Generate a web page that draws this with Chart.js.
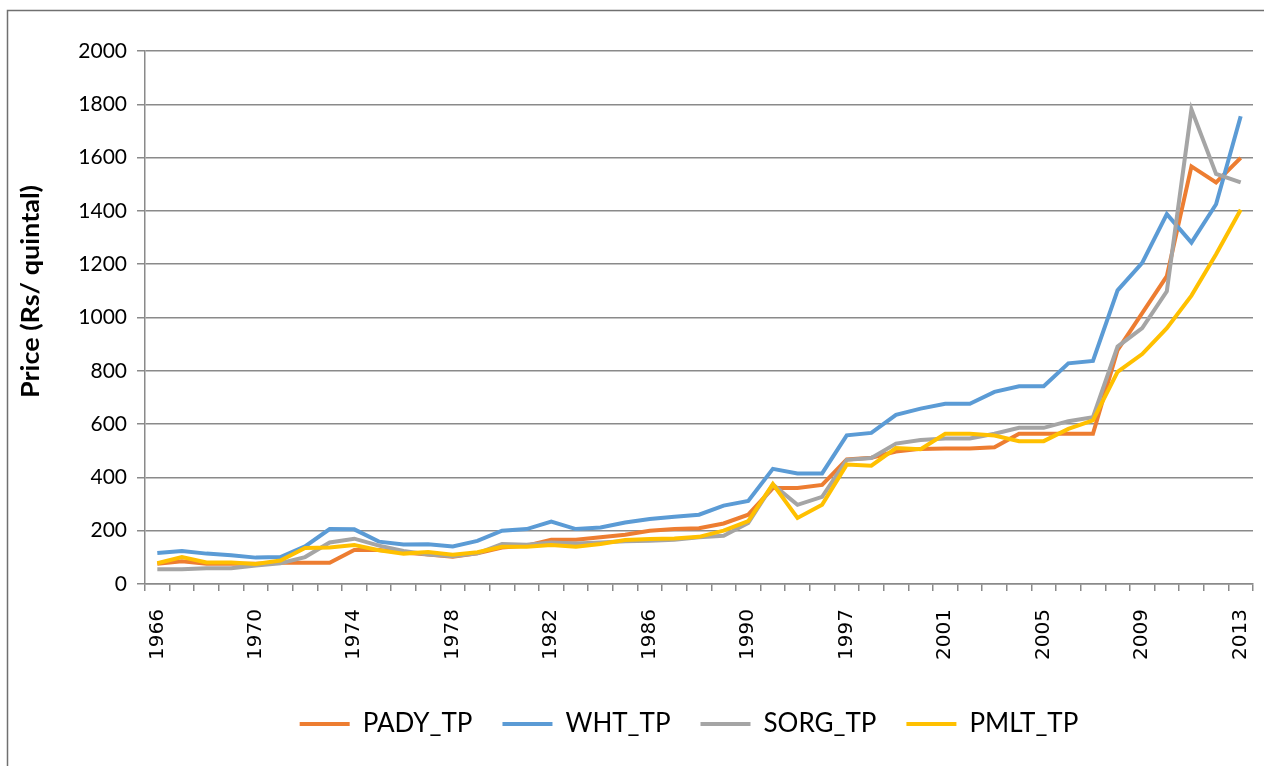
<!DOCTYPE html>
<html>
<head>
<meta charset="utf-8">
<script src="https://cdn.jsdelivr.net/npm/chart.js@4.4.1/dist/chart.umd.min.js"></script>
<style>
html,body{margin:0;padding:0;background:#fff;}
#wrap{width:1264px;height:766px;position:relative;}
</style>
</head>
<body>
<div id="wrap"><canvas id="c" width="1264" height="766"></canvas></div>
<script>
// ---- data ----
const years = ['1966','1967','1968','1969','1970','1971','1972','1973','1974','1975','1976','1977','1978','1979','1980','1981','1982','1983','1984','1985','1986','1987','1988','1989','1990','1992','1994','1996','1997','1998','1999','2000','2001','2002','2003','2004','2005','2006','2007','2008','2009','2010','2011','2012','2013'];
const shownYears = ['1966','1970','1974','1978','1982','1986','1990','1997','2001','2005','2009','2013'];
const seriesNames = ['PADY_TP','WHT_TP','SORG_TP','PMLT_TP'];
const pady = [76,85,76,76,76,80,80,80,128,128,118,111,102,115,137,144,166,166,175,185,200,206,209,227,260,360,360,372,467,474,497,507,508,508,513,564,564,564,564,878,1016,1155,1567,1507,1599];
const wht  = [116,124,114,108,99,101,141,206,205,159,148,149,141,162,200,206,234,206,212,231,244,252,260,294,312,432,415,415,558,567,635,658,676,676,721,742,742,828,837,1102,1205,1388,1281,1425,1755];
const sorg = [55,55,59,59,69,78,101,156,170,144,124,111,104,115,150,147,156,152,156,160,162,166,175,181,229,373,297,327,466,473,527,540,546,546,564,586,586,611,626,891,960,1098,1781,1539,1507];
const pmlt = [78,101,81,81,75,88,135,137,146,127,114,120,110,119,140,140,146,140,150,165,169,171,177,200,236,375,248,297,448,444,510,506,564,564,557,536,536,582,614,796,863,960,1082,1237,1404];
const yMin = 0, yMax = 2000, yStep = 200;
const yTitle = 'Price (Rs/ quintal)';
const colors = ['#ED7D31','#5B9BD5','#A5A5A5','#FFC000'];

const frame = {
  id: 'frame',
  afterLayout(chart) {
    if (chart.legend) { chart.legend.left -= 10; chart.legend.right -= 10; }
  },
  beforeDraw(chart) {
    const ctx = chart.ctx;
    ctx.save();
    ctx.fillStyle = '#fff';
    ctx.fillRect(0, 0, chart.width, chart.height);
    ctx.strokeStyle = '#707070';
    ctx.lineWidth = 1.5;
    ctx.strokeRect(7.5, 10.5, 1400, 900);
    ctx.restore();
  },
  afterDraw(chart) {
    const ctx = chart.ctx;
    ctx.save();
    ctx.translate(38.5, 291.5);
    ctx.rotate(-Math.PI / 2);
    ctx.font = 'bold 24px Lato';
    ctx.fillStyle = '#000';
    ctx.textAlign = 'center';
    ctx.textBaseline = 'alphabetic';
    const w = ctx.measureText(yTitle).width;
    ctx.scale(213 / w, 1);
    ctx.fillText(yTitle, 0, 0);
    ctx.restore();
  }
};

const seriesData = [pady, wht, sorg, pmlt];
const gridColor = '#8a8a8a';

new Chart(document.getElementById('c'), {
  type: 'line',
  data: {
    labels: years,
    datasets: seriesNames.map((n, i) => ({
      label: n,
      data: seriesData[i],
      borderColor: colors[i],
      backgroundColor: colors[i],
      borderWidth: 4,
      pointRadius: 0,
      pointHoverRadius: 0,
      tension: 0,
      fill: false,
      order: seriesNames.length - i
    }))
  },
  options: {
    responsive: false,
    devicePixelRatio: 1,
    animation: false,
    layout: { padding: { left: 0, top: 51, right: 11, bottom: 19 } },
    plugins: {
      legend: {
        position: 'bottom',
        fullSize: false,
        labels: {
          usePointStyle: true,
          pointStyle: 'line',
          pointStyleWidth: 50,
          padding: 30,
          color: '#000',
          font: { family: 'Lato', size: 26 },
          sort: (a, b) => a.datasetIndex - b.datasetIndex
        }
      },
      tooltip: { enabled: false },
      title: { display: false }
    },
    scales: {
      x: {
        type: 'category',
        offset: true,
        grid: { display: true, drawOnChartArea: false, drawTicks: true, tickLength: 7, offset: true, color: gridColor, lineWidth: 1.5 },
        border: { display: true, color: gridColor, width: 1.5 },
        ticks: {
          autoSkip: false,
          maxRotation: 90,
          minRotation: 90,
          padding: 18,
          color: '#000',
          font: { family: 'DejaVu Sans', size: 20 },
          callback: function (v) {
            const l = this.getLabelForValue(v);
            return shownYears.includes(l) ? l : '';
          }
        },
        afterFit: (s) => { s.height = 97; s.paddingLeft = 0; s.paddingRight = 0; }
      },
      y: {
        min: yMin,
        max: yMax,
        ticks: { stepSize: yStep, padding: 10, color: '#000', font: { family: 'Lato', size: 21 }, callback: (v) => String(v) },
        grid: { color: gridColor, lineWidth: 1.5, tickLength: 8, drawTicks: true },
        border: { display: true, color: gridColor, width: 1.5 },
        afterFit: (s) => { s.width = 145; }
      }
    }
  },
  plugins: [frame]
});
</script>
</body>
</html>
